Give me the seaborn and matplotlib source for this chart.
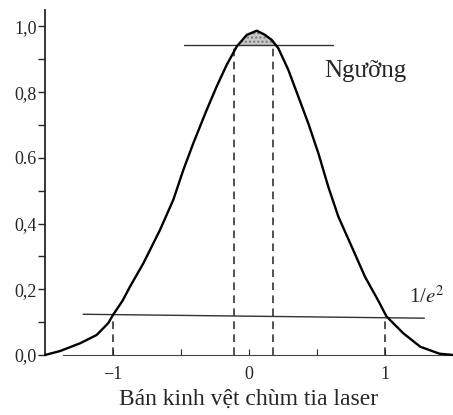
import numpy as np
import pandas as pd
import matplotlib
matplotlib.use("Agg")
import matplotlib.pyplot as plt
import seaborn as sns

# beam profile (radius in units of w, relative intensity)
radius = [-1.50, -1.39, -1.24, -1.12, -1.035, -1.00, -0.93, -0.875, -0.777, -0.654,
          -0.557, -0.483, -0.410, -0.311, -0.238, -0.164, -0.090, -0.017, 0.057, 0.115,
          0.167, 0.215, 0.289, 0.363, 0.436, 0.510, 0.583, 0.657, 0.755, 0.853,
          0.951, 1.01, 1.06, 1.135, 1.26, 1.40, 1.50]
intensity = [0.000, 0.012, 0.036, 0.061, 0.097, 0.122, 0.165, 0.208, 0.279, 0.381,
             0.472, 0.563, 0.644, 0.746, 0.817, 0.883, 0.939, 0.974, 0.987, 0.975,
             0.959, 0.934, 0.868, 0.786, 0.705, 0.614, 0.512, 0.421, 0.330, 0.238,
             0.165, 0.118, 0.097, 0.066, 0.025, 0.004, 0.000]

threshold = 0.942
threshold_span = [-0.48, 0.62]
threshold_marks = [-0.11, 0.18]

e2_left, e2_right = 0.124, 0.112
e2_span = [-1.22, 1.29]
e2_marks = [-1.0, 1.0]

ytick_vals = [0.0, 0.2, 0.4, 0.6, 0.8, 1.0]
ytick_labels = ["0,0", "0,2", "0,4", "0.6", "0,8", "1,0"]
xtick_vals = [-1, 0, 1]
xtick_labels = ["\u22121", "0", "1"]

sns.set_style("ticks")
plt.rcParams["font.family"] = ["Liberation Serif", "DejaVu Serif"]
plt.rcParams["mathtext.fontset"] = "stix"

df = pd.DataFrame({"r": radius, "I": intensity})

fig = plt.figure(figsize=(4.53, 4.15), dpi=100)
ax = fig.add_axes([45 / 453, 60 / 415, 408 / 453, 345 / 415])

sns.lineplot(data=df, x="r", y="I", ax=ax, color="black", lw=1.7,
             sort=False, clip_on=False, zorder=3)

# stippled cap above the threshold
ax.fill_between(df["r"], threshold, df["I"], where=df["I"] >= threshold,
                interpolate=True, facecolor="#c8c8c8", edgecolor="#777777",
                hatch="....", lw=0, zorder=2)

# threshold and 1/e^2 levels
ax.plot(threshold_span, [threshold, threshold], color="#333333", lw=1.0, zorder=2)
ax.plot(e2_span, [e2_left, e2_right], color="#333333", lw=1.0, zorder=2)

for xm in threshold_marks:
    ax.plot([xm, xm], [0, threshold], color="#222222", lw=1.1,
            dashes=(5, 3.5), zorder=2)
for xm in e2_marks:
    lvl = np.interp(xm, e2_span, [e2_left, e2_right])
    ax.plot([xm, xm], [0, lvl], color="#222222", lw=1.1,
            dashes=(5, 3.5), zorder=2)

ax.set_xlim(-1.5, 1.5)
ax.set_ylim(0, 1.05)

ax.set_yticks(ytick_vals)
ax.set_yticklabels(ytick_labels, fontsize=13)
ax.set_yticks(np.arange(0.1, 1.0, 0.2), minor=True)
ax.tick_params(axis="y", which="both", direction="out", length=5, width=1, pad=1)

ax.set_xticks(xtick_vals)
ax.set_xticklabels(xtick_labels, fontsize=13)
ax.set_xticks([-0.5, 0.5], minor=True)
ax.tick_params(axis="x", which="both", direction="in", length=4, width=0.8, pad=8)

for s in ["top", "right"]:
    ax.spines[s].set_visible(False)
ax.spines["left"].set_linewidth(1.3)
ax.spines["bottom"].set_linewidth(0.8)
ax.spines["bottom"].set_color("#444444")
ax.spines["bottom"].set_bounds(-1.37, 1.5)

ax.set_xlabel("Bán kinh vệt chùm tia laser", fontsize=17, labelpad=4)
ax.set_ylabel("")

ax.text(0.55, 0.865, "Ngưỡng", fontsize=18, ha="left", va="center")
ax.text(1.18, 0.175, "1/$e^2$", fontsize=15, ha="left", va="center")

fig.savefig("out.png", dpi=100)
